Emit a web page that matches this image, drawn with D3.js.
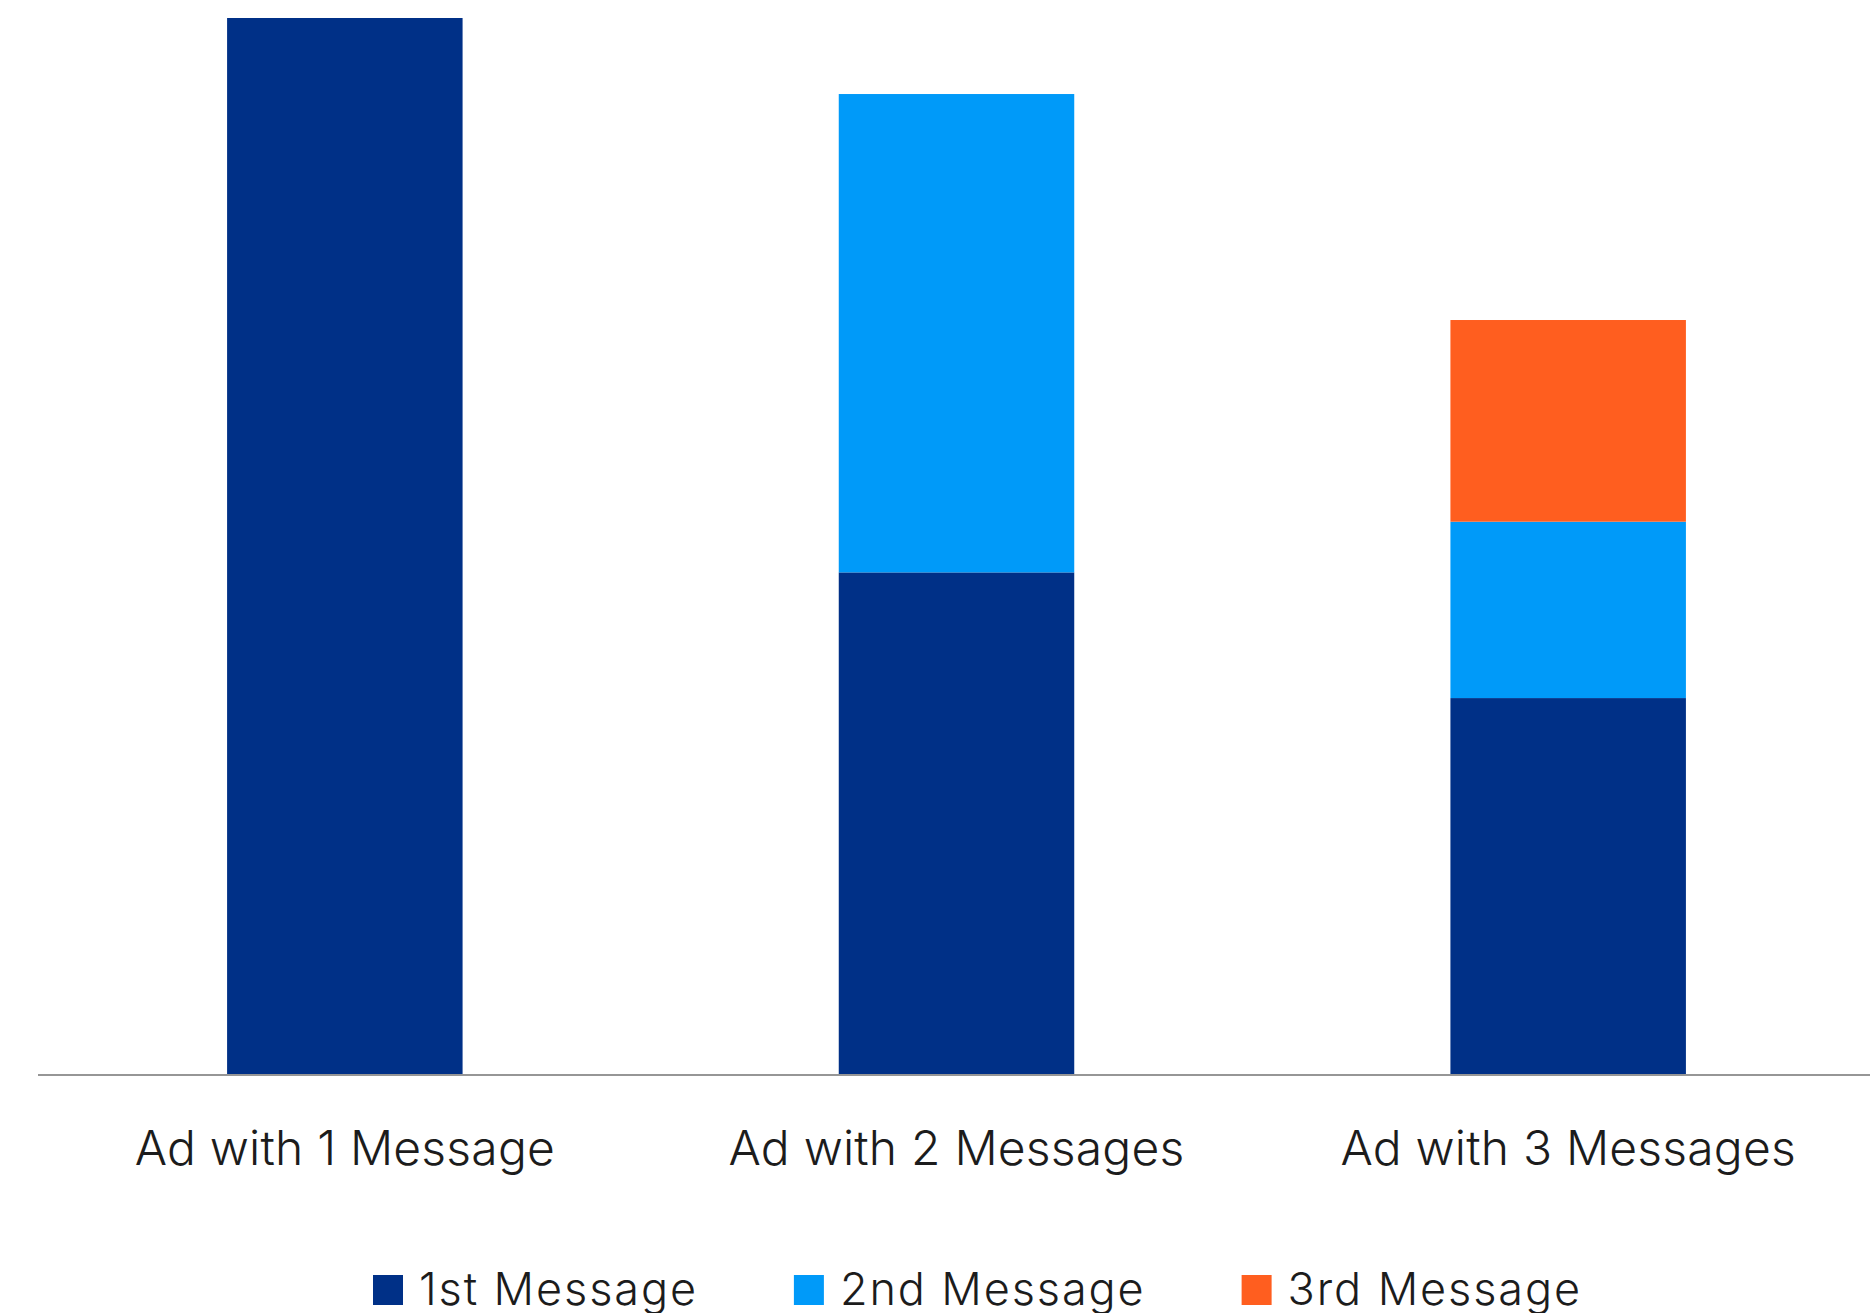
<!DOCTYPE html>
<html>
<head>
<meta charset="utf-8">
<script src="https://cdn.jsdelivr.net/npm/d3@7"></script>
<style>
  html, body { margin: 0; padding: 0; background: #ffffff; }
  svg { display: block; }
  text { font-family: Inter, "Noto Sans", sans-serif; font-weight: 300; fill: #1c1c1c; }
</style>
</head>
<body>
<svg id="chart" width="1870" height="1313"></svg>
<script>
// Ad categories along the x axis
const categories = ["Ad with 1 Message", "Ad with 2 Messages", "Ad with 3 Messages"];
// Stacked series (share of recall, indexed to the single-message ad)
const seriesNames = ["1st Message", "2nd Message", "3rd Message"];
const firstMessage  = [100, 47.5, 35.6];
const secondMessage = [0,   45.3, 16.7];
const thirdMessage  = [0,   0,    19.1];
const seriesColors = ["#003087", "#009AF9", "#FF5E1F"];

const width = 1870, height = 1313;
const margin = { top: 18, left: 39, right: -4, baseline: 1074 };

const rows = categories.map((c, i) => ({
  category: c,
  "1st Message": firstMessage[i],
  "2nd Message": secondMessage[i],
  "3rd Message": thirdMessage[i]
}));

const svg = d3.select("#chart");

const x = d3.scaleBand()
  .domain(categories)
  .range([margin.left, width - margin.right])
  .paddingInner(0.615)
  .paddingOuter(0.3075);

const y = d3.scaleLinear()
  .domain([0, 100])
  .range([margin.baseline, margin.top]);

const color = d3.scaleOrdinal().domain(seriesNames).range(seriesColors);

const stacked = d3.stack().keys(seriesNames)(rows);

// stacked bars
svg.append("g")
  .selectAll("g")
  .data(stacked)
  .join("g")
    .attr("fill", d => color(d.key))
  .selectAll("rect")
  .data(d => d.filter(s => s[1] - s[0] > 0))
  .join("rect")
    .attr("x", d => x(d.data.category))
    .attr("width", x.bandwidth())
    .attr("y", d => y(d[1]))
    .attr("height", d => y(d[0]) - y(d[1]));

// baseline axis with category labels
const xAxis = svg.append("g")
  .attr("transform", `translate(0,${y(0) + 1})`)
  .call(d3.axisBottom(x).tickSize(0).tickPadding(0));
xAxis.select(".domain")
  .attr("d", `M${margin.left - 1},0H${width}`)
  .attr("stroke", "#969696")
  .attr("stroke-width", 2);
xAxis.selectAll(".tick text")
  .attr("dy", null)
  .attr("y", 90)
  .attr("font-family", "Inter, 'Noto Sans', sans-serif")
  .attr("font-weight", 300)
  .attr("font-size", 48)
  .attr("letter-spacing", "0.2px")
  .attr("fill", "#1c1c1c");

// legend
const legend = svg.append("g").attr("transform", "translate(373,1275)");
let offset = 0;
seriesNames.forEach(name => {
  const item = legend.append("g").attr("transform", `translate(${offset},0)`);
  item.append("rect").attr("width", 30).attr("height", 30).attr("fill", color(name));
  const t = item.append("text")
    .attr("x", 46)
    .attr("y", 29.5)
    .attr("font-size", 45)
    .attr("letter-spacing", "1.9px")
    .text(name);
  offset += 46 + t.node().getComputedTextLength() + 96;
});
</script>
</body>
</html>
